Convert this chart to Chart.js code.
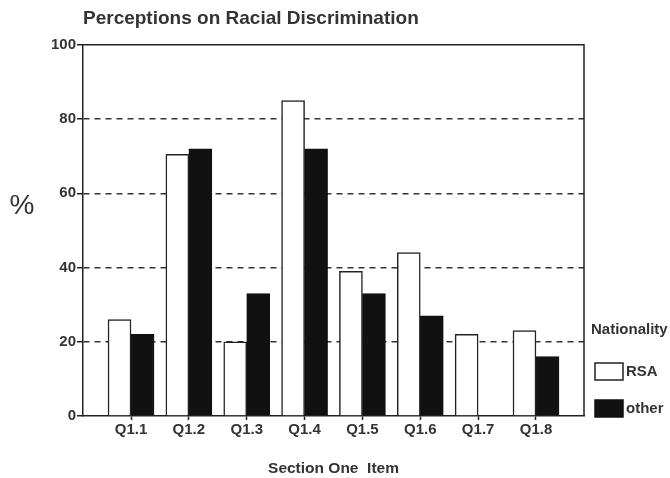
<!DOCTYPE html>
<html>
<head>
<meta charset="utf-8">
<script src="https://cdn.jsdelivr.net/npm/chart.js@4.4.1/dist/chart.umd.min.js"></script>
<style>
  html, body { margin: 0; padding: 0; background: #fff; }
</style>
</head>
<body>
<canvas id="chart" width="670" height="478"></canvas>
<script>
const items = ['Q1.1', 'Q1.2', 'Q1.3', 'Q1.4', 'Q1.5', 'Q1.6', 'Q1.7', 'Q1.8'];
const rsa = [26, 70.5, 20, 85, 39, 44, 22, 23];
const other = [22, 72, 33, 72, 33, 27, 0, 16];
const yTicks = [0, 20, 40, 60, 80, 100];

const FONT = "'Liberation Sans', Arial, sans-serif";
const INK = '#222';
const TEXT = '#333';

const toPoints = (vals) => vals.map((v, i) => ({ x: i + 1, y: v }));

// frame, "%" label and legend drawn on top of the chart
const extras = {
  id: 'extras',
  afterDraw(chart) {
    const { ctx, chartArea: a } = chart;
    ctx.save();
    ctx.strokeStyle = INK;
    ctx.lineWidth = 1.5;
    ctx.beginPath();
    ctx.moveTo(a.left, a.top);
    ctx.lineTo(a.right, a.top);
    ctx.lineTo(a.right, a.bottom);
    ctx.stroke();

    ctx.fillStyle = TEXT;
    ctx.font = '28px ' + FONT;
    ctx.textAlign = 'center';
    ctx.textBaseline = 'middle';
    ctx.fillText('%', 22, 206);

    ctx.textAlign = 'left';
    ctx.font = 'bold 15px ' + FONT;
    ctx.fillText('Nationality', 591, 330);
    chart.data.datasets.forEach((d, i) => {
      const y = 363 + i * 37;
      ctx.fillStyle = d.backgroundColor;
      ctx.fillRect(595, y, 28, 17);
      ctx.strokeStyle = d.borderColor;
      ctx.lineWidth = 1.5;
      ctx.strokeRect(595, y, 28, 17);
      ctx.fillStyle = TEXT;
      ctx.fillText(d.label, 626, y + 9);
    });
    ctx.restore();
  }
};

new Chart(document.getElementById('chart'), {
  type: 'bar',
  data: {
    datasets: [
      { label: 'RSA', data: toPoints(rsa), backgroundColor: '#fff', borderColor: INK, borderWidth: 1.5, barThickness: 23 },
      { label: 'other', data: toPoints(other), backgroundColor: '#111', borderColor: '#111', borderWidth: 1.5, barThickness: 23 }
    ]
  },
  options: {
    responsive: false,
    animation: false,
    devicePixelRatio: 1,
    layout: { padding: { left: 0, right: 86, top: 0, bottom: 0 } },
    plugins: {
      legend: { display: false },
      tooltip: { enabled: false },
      title: {
        display: true,
        fullSize: false,
        align: 'start',
        text: 'Perceptions on Racial Discrimination',
        color: TEXT,
        font: { family: FONT, size: 19, weight: 'bold' },
        padding: { top: 7, bottom: 15 }
      }
    },
    scales: {
      x: {
        type: 'linear',
        offset: false,
        min: 0.17,
        max: 8.83,
        afterBuildTicks: (axis) => { axis.ticks = items.map((_, i) => ({ value: i + 1 })); },
        afterFit: (axis) => { axis.height = 62; },
        ticks: {
          callback: (v) => items[Math.round(v) - 1],
          color: TEXT,
          font: { family: FONT, size: 15, weight: 'bold' },
          padding: 1,
          maxRotation: 0,
          autoSkip: false
        },
        grid: { offset: false, drawOnChartArea: false, drawTicks: true, tickLength: 4, tickColor: INK, tickWidth: 1.5 },
        border: { color: INK, width: 1.5 },
        title: {
          display: true,
          text: 'Section One  Item',
          color: TEXT,
          font: { family: FONT, size: 15.5, weight: 'bold' },
          padding: { top: 0, bottom: 0 }
        }
      },
      y: {
        min: 0,
        max: 100,
        afterBuildTicks: (axis) => { axis.ticks = yTicks.map((v) => ({ value: v })); },
        afterFit: (axis) => { axis.width = 83; },
        ticks: { color: TEXT, font: { family: FONT, size: 15, weight: 'bold' }, padding: 1 },
        grid: {
          color: (c) => (c.tick && (c.tick.value === 0 || c.tick.value === 100)) ? 'rgba(0,0,0,0)' : '#333',
          lineWidth: 1.5,
          tickLength: 6,
          tickColor: INK,
          tickWidth: 1.5
        },
        border: { color: INK, width: 1.5, dash: [6, 5] }
      }
    }
  },
  plugins: [extras]
});
</script>
</body>
</html>
